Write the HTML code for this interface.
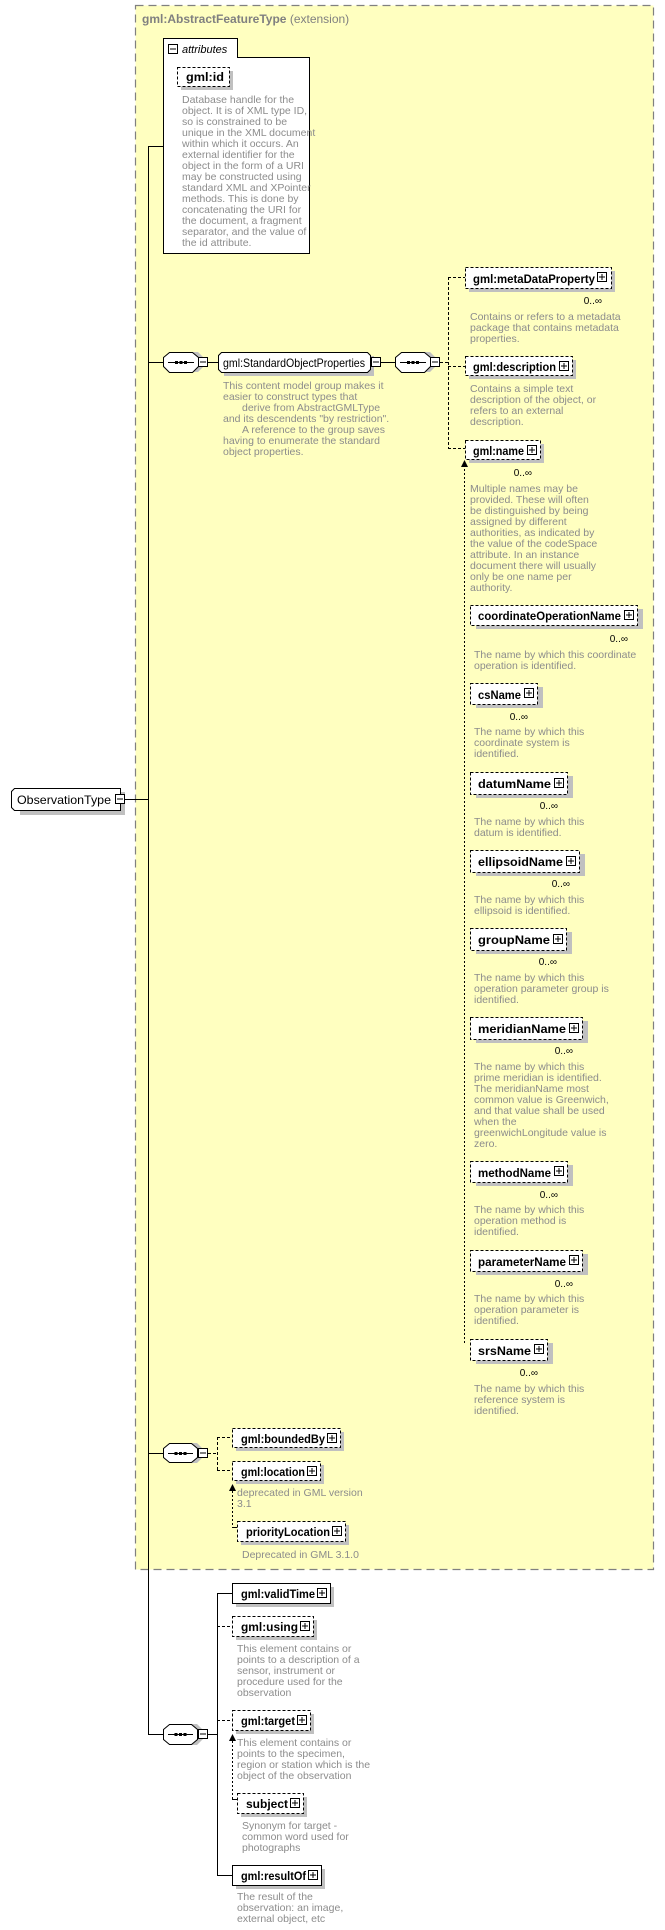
<!DOCTYPE html>
<html><head><meta charset="utf-8"><style>
html,body{margin:0;padding:0;background:#fff;}
svg{display:block;}
.n{font-family:"Liberation Sans",Arial,sans-serif;font-weight:bold;font-size:12px;fill:#000;}
.d{font-family:"Liberation Sans",Arial,sans-serif;font-size:10.5px;fill:#8c8c8c;}
.o{font-family:"Liberation Sans",Arial,sans-serif;font-size:10px;fill:#000;}
.sh{fill:#c0c0c0;}
.bx{fill:#fff;stroke:#000;stroke-width:1;}
.ds{stroke-dasharray:3,2;}
.ln{stroke:#000;stroke-width:1;fill:none;}
</style></head><body>
<svg width="665" height="1930" viewBox="0 0 665 1930" xmlns="http://www.w3.org/2000/svg">
<rect x="135.5" y="5.5" width="518" height="1564" fill="#ffffc0" stroke="#808080" stroke-width="1.2" stroke-dasharray="8,5"/>
<text x="142" y="23" style="font-family:'Liberation Sans',Arial,sans-serif;font-size:12px;fill:#808080"><tspan font-weight="bold">gml:AbstractFeatureType</tspan> (extension)</text>

<path d="M163.5,253.5 V38.5 H237.5 V57.5 H309.5 V253.5 Z" class="bx"/>
<rect x="168.5" y="44.5" width="9" height="9" class="bx"/><line x1="170" y1="49" x2="176" y2="49" class="ln"/>
<text x="182" y="53" style="font-family:'Liberation Sans',Arial,sans-serif;font-size:11px;font-style:italic">attributes</text>
<rect x="181" y="71" width="52" height="19" class="sh"/>
<rect x="177.5" y="67.5" width="52" height="19" class="bx ds"/>
<text x="186" y="81" class="n" textLength="38" lengthAdjust="spacingAndGlyphs">gml:id</text>
<text class="d"><tspan x="182" y="103">Database handle for the</tspan><tspan x="182" y="114">object.  It is of XML type ID,</tspan><tspan x="182" y="125">so is constrained to be</tspan><tspan x="182" y="136">unique in the XML document</tspan><tspan x="182" y="147">within which it occurs.  An</tspan><tspan x="182" y="158">external identifier for the</tspan><tspan x="182" y="169">object in the form of a URI</tspan><tspan x="182" y="180">may be constructed using</tspan><tspan x="182" y="191">standard XML and XPointer</tspan><tspan x="182" y="202">methods.  This is done by</tspan><tspan x="182" y="213">concatenating the URI for</tspan><tspan x="182" y="224">the document, a fragment</tspan><tspan x="182" y="235">separator, and the value of</tspan><tspan x="182" y="246">the id attribute.</tspan></text>

<path d="M20,792 H125 V815 H20 Z" class="sh"/>
<path d="M14.5,788.5 H120.5 V810.5 H14.5 L11.5,807.5 V791.5 Z" class="bx"/>
<text x="17" y="804" style="font-family:'Liberation Sans',Arial,sans-serif;font-size:12px" textLength="94" lengthAdjust="spacingAndGlyphs">ObservationType</text>
<rect x="115.5" y="794.5" width="9" height="9" class="bx"/><line x1="117" y1="799" x2="123" y2="799" class="ln"/>
<line x1="125" y1="799.5" x2="148" y2="799.5" class="ln"/>

<line x1="148.5" y1="146" x2="148.5" y2="1734" class="ln"/>
<line x1="148" y1="146.5" x2="163" y2="146.5" class="ln"/>

<line x1="148" y1="362.5" x2="163" y2="362.5" class="ln"/>
<path d="M169,358 L175,352 H198 L204,358 V366 L198,372 H175 L169,366 Z" class="sh"/>
<path d="M163.5,357.5 L169.5,352.5 H192.5 L198.5,357.5 V366.5 L192.5,372.5 H169.5 L163.5,366.5 Z" class="bx"/>
<line x1="168" y1="362.5" x2="194" y2="362.5" class="ln"/><rect x="175" y="361" width="3" height="3"/><rect x="179.5" y="361" width="3" height="3"/><rect x="184" y="361" width="3" height="3"/>
<rect x="198.5" y="357.5" width="9" height="9" class="bx"/><line x1="200" y1="362" x2="206" y2="362" class="ln"/>
<line x1="208" y1="362.5" x2="218" y2="362.5" class="ln"/>
<path d="M224,356 H374 V376 H224 Z" class="sh"/>
<path d="M221.5,352.5 H367.5 L370.5,355.5 V369.5 L367.5,372.5 H221.5 L218.5,369.5 V355.5 Z" class="bx"/>
<text x="223" y="367" style="font-family:'Liberation Sans',Arial,sans-serif;font-size:12px" textLength="142" lengthAdjust="spacingAndGlyphs">gml:StandardObjectProperties</text>
<rect x="371.5" y="357.5" width="9" height="9" class="bx"/><line x1="373" y1="362" x2="379" y2="362" class="ln"/>
<line x1="381" y1="362.5" x2="395" y2="362.5" class="ln"/>
<path d="M401,358 L407,352 H430 L436,358 V366 L430,372 H407 L401,366 Z" class="sh"/>
<path d="M395.5,357.5 L401.5,352.5 H424.5 L430.5,357.5 V366.5 L424.5,372.5 H401.5 L395.5,366.5 Z" class="bx"/>
<line x1="400" y1="362.5" x2="426" y2="362.5" class="ln"/><rect x="407" y="361" width="3" height="3"/><rect x="411.5" y="361" width="3" height="3"/><rect x="416" y="361" width="3" height="3"/>
<rect x="430.5" y="357.5" width="9" height="9" class="bx"/><line x1="432" y1="362" x2="438" y2="362" class="ln"/>
<line x1="440" y1="362.5" x2="448" y2="362.5" class="ln ds"/>
<line x1="448.5" y1="277" x2="448.5" y2="448" class="ln ds"/>
<line x1="448" y1="277.5" x2="465" y2="277.5" class="ln ds"/>
<line x1="448" y1="366.5" x2="465" y2="366.5" class="ln ds"/>
<line x1="448" y1="448.5" x2="465" y2="448.5" class="ln ds"/>
<text class="d"><tspan x="223" y="389">This content model group makes it</tspan><tspan x="223" y="400">easier to construct types that</tspan><tspan x="242" y="411">derive from AbstractGMLType</tspan><tspan x="223" y="422">and its descendents "by restriction".</tspan><tspan x="242" y="433">A reference to the group saves</tspan><tspan x="223" y="444">having to enumerate the standard</tspan><tspan x="223" y="455">object properties.</tspan></text>

<line x1="464.5" y1="461" x2="464.5" y2="1344" class="ln" stroke-dasharray="2,2"/>
<path d="M461,467 L464.5,460 L468,467 Z"/>

<g>
<rect x="469" y="271" width="146" height="21" class="sh"/><rect x="465.5" y="267.5" width="146" height="21" class="bx ds"/><text x="473" y="283" class="n" textLength="122" lengthAdjust="spacingAndGlyphs">gml:metaDataProperty</text>
<rect x="597.5" y="272.5" width="9" height="9" class="bx"/><path d="M599,277H605M602,274V280" class="ln"/>
<text x="602" y="304" class="o" text-anchor="end">0..∞</text>
<text class="d"><tspan x="470" y="320">Contains or refers to a metadata</tspan><tspan x="470" y="331">package that contains metadata</tspan><tspan x="470" y="342">properties.</tspan></text>

<rect x="469" y="360" width="107" height="19" class="sh"/><rect x="465.5" y="356.5" width="107" height="19" class="bx ds"/><text x="473" y="371" class="n" textLength="83" lengthAdjust="spacingAndGlyphs">gml:description</text>
<rect x="559.5" y="361.5" width="9" height="9" class="bx"/><path d="M561,366H567M564,363V369" class="ln"/>
<text class="d"><tspan x="470" y="392">Contains a simple text</tspan><tspan x="470" y="403">description of the object, or</tspan><tspan x="470" y="414">refers to an external</tspan><tspan x="470" y="425">description.</tspan></text>

<rect x="469" y="444" width="75" height="19" class="sh"/><rect x="465.5" y="440.5" width="75" height="19" class="bx ds"/><text x="473" y="455" class="n" textLength="51" lengthAdjust="spacingAndGlyphs">gml:name</text>
<rect x="527.5" y="445.5" width="9" height="9" class="bx"/><path d="M529,450H535M532,447V453" class="ln"/>
<text x="532" y="476" class="o" text-anchor="end">0..∞</text>
<text class="d"><tspan x="470" y="492">Multiple names may be</tspan><tspan x="470" y="503">provided.  These will often</tspan><tspan x="470" y="514">be distinguished by being</tspan><tspan x="470" y="525">assigned by different</tspan><tspan x="470" y="536">authorities, as indicated by</tspan><tspan x="470" y="547">the value of the codeSpace</tspan><tspan x="470" y="558">attribute.  In an instance</tspan><tspan x="470" y="569">document there will usually</tspan><tspan x="470" y="580">only be one name per</tspan><tspan x="470" y="591">authority.</tspan></text>

<rect x="476" y="609" width="167" height="20" class="sh"/><rect x="470.5" y="605.5" width="167" height="20" class="bx ds"/><text x="478" y="620" class="n" textLength="143" lengthAdjust="spacingAndGlyphs">coordinateOperationName</text>
<rect x="624.5" y="610.5" width="9" height="9" class="bx"/><path d="M626,615H632M629,612V618" class="ln"/>
<text x="628" y="642" class="o" text-anchor="end">0..∞</text>
<text class="d"><tspan x="474" y="658">The name by which this coordinate</tspan><tspan x="474" y="669">operation is identified.</tspan></text>

<rect x="476" y="687" width="67" height="21" class="sh"/><rect x="470.5" y="683.5" width="67" height="21" class="bx ds"/><text x="478" y="699" class="n" textLength="43" lengthAdjust="spacingAndGlyphs">csName</text>
<rect x="524.5" y="688.5" width="9" height="9" class="bx"/><path d="M526,693H532M529,690V696" class="ln"/>
<text x="528" y="720" class="o" text-anchor="end">0..∞</text>
<text class="d"><tspan x="474" y="735">The name by which this</tspan><tspan x="474" y="746">coordinate system is</tspan><tspan x="474" y="757">identified.</tspan></text>

<rect x="476" y="776" width="97" height="22" class="sh"/><rect x="470.5" y="772.5" width="97" height="22" class="bx ds"/><text x="478" y="788" class="n" textLength="73" lengthAdjust="spacingAndGlyphs">datumName</text>
<rect x="554.5" y="778.5" width="9" height="9" class="bx"/><path d="M556,783H562M559,780V786" class="ln"/>
<text x="558" y="809" class="o" text-anchor="end">0..∞</text>
<text class="d"><tspan x="474" y="825">The name by which this</tspan><tspan x="474" y="836">datum is identified.</tspan></text>

<rect x="476" y="854" width="109" height="22" class="sh"/><rect x="470.5" y="850.5" width="109" height="22" class="bx ds"/><text x="478" y="866" class="n" textLength="85" lengthAdjust="spacingAndGlyphs">ellipsoidName</text>
<rect x="566.5" y="856.5" width="9" height="9" class="bx"/><path d="M568,861H574M571,858V864" class="ln"/>
<text x="570" y="887" class="o" text-anchor="end">0..∞</text>
<text class="d"><tspan x="474" y="903">The name by which this</tspan><tspan x="474" y="914">ellipsoid is identified.</tspan></text>

<rect x="476" y="932" width="96" height="22" class="sh"/><rect x="470.5" y="928.5" width="96" height="22" class="bx ds"/><text x="478" y="944" class="n" textLength="72" lengthAdjust="spacingAndGlyphs">groupName</text>
<rect x="553.5" y="934.5" width="9" height="9" class="bx"/><path d="M555,939H561M558,936V942" class="ln"/>
<text x="557" y="965" class="o" text-anchor="end">0..∞</text>
<text class="d"><tspan x="474" y="981">The name by which this</tspan><tspan x="474" y="992">operation parameter group is</tspan><tspan x="474" y="1003">identified.</tspan></text>

<rect x="476" y="1021" width="112" height="22" class="sh"/><rect x="470.5" y="1017.5" width="112" height="22" class="bx ds"/><text x="478" y="1033" class="n" textLength="88" lengthAdjust="spacingAndGlyphs">meridianName</text>
<rect x="569.5" y="1023.5" width="9" height="9" class="bx"/><path d="M571,1028H577M574,1025V1031" class="ln"/>
<text x="573" y="1054" class="o" text-anchor="end">0..∞</text>
<text class="d"><tspan x="474" y="1070">The name by which this</tspan><tspan x="474" y="1081">prime meridian is identified.</tspan><tspan x="474" y="1092">The meridianName most</tspan><tspan x="474" y="1103">common value is Greenwich,</tspan><tspan x="474" y="1114">and that value shall be used</tspan><tspan x="474" y="1125">when the</tspan><tspan x="474" y="1136">greenwichLongitude value is</tspan><tspan x="474" y="1147">zero.</tspan></text>

<rect x="476" y="1165" width="97" height="21" class="sh"/><rect x="470.5" y="1161.5" width="97" height="21" class="bx ds"/><text x="478" y="1177" class="n" textLength="73" lengthAdjust="spacingAndGlyphs">methodName</text>
<rect x="554.5" y="1166.5" width="9" height="9" class="bx"/><path d="M556,1171H562M559,1168V1174" class="ln"/>
<text x="558" y="1198" class="o" text-anchor="end">0..∞</text>
<text class="d"><tspan x="474" y="1213">The name by which this</tspan><tspan x="474" y="1224">operation method is</tspan><tspan x="474" y="1235">identified.</tspan></text>

<rect x="476" y="1254" width="112" height="21" class="sh"/><rect x="470.5" y="1250.5" width="112" height="21" class="bx ds"/><text x="478" y="1266" class="n" textLength="88" lengthAdjust="spacingAndGlyphs">parameterName</text>
<rect x="569.5" y="1255.5" width="9" height="9" class="bx"/><path d="M571,1260H577M574,1257V1263" class="ln"/>
<text x="573" y="1287" class="o" text-anchor="end">0..∞</text>
<text class="d"><tspan x="474" y="1302">The name by which this</tspan><tspan x="474" y="1313">operation parameter is</tspan><tspan x="474" y="1324">identified.</tspan></text>

<rect x="476" y="1343" width="77" height="21" class="sh"/><rect x="470.5" y="1339.5" width="77" height="21" class="bx ds"/><text x="478" y="1355" class="n" textLength="53" lengthAdjust="spacingAndGlyphs">srsName</text>
<rect x="534.5" y="1344.5" width="9" height="9" class="bx"/><path d="M536,1349H542M539,1346V1352" class="ln"/>
<text x="538" y="1376" class="o" text-anchor="end">0..∞</text>
<text class="d"><tspan x="474" y="1392">The name by which this</tspan><tspan x="474" y="1403">reference system is</tspan><tspan x="474" y="1414">identified.</tspan></text>
</g>

<line x1="148" y1="1453.5" x2="163" y2="1453.5" class="ln"/>
<path d="M169,1449 L175,1443 H197 L203,1449 V1457 L197,1463 H175 L169,1457 Z" class="sh"/>
<path d="M163.5,1448.5 L169.5,1443.5 H191.5 L197.5,1448.5 V1457.5 L191.5,1462.5 H169.5 L163.5,1457.5 Z" class="bx"/>
<line x1="168" y1="1453.5" x2="193" y2="1453.5" class="ln"/><rect x="174.5" y="1452" width="3" height="3"/><rect x="179" y="1452" width="3" height="3"/><rect x="183.5" y="1452" width="3" height="3"/>
<rect x="198.5" y="1448.5" width="9" height="9" class="bx"/><line x1="200" y1="1453" x2="206" y2="1453" class="ln"/>
<line x1="208" y1="1453.5" x2="217" y2="1453.5" class="ln ds"/>
<line x1="217.5" y1="1437" x2="217.5" y2="1470" class="ln ds"/>
<line x1="217" y1="1437.5" x2="232" y2="1437.5" class="ln ds"/>
<line x1="217" y1="1470.5" x2="232" y2="1470.5" class="ln ds"/>
<rect x="236" y="1432" width="108" height="19" class="sh"/><rect x="232.5" y="1428.5" width="108" height="19" class="bx ds"/><text x="241" y="1443" class="n" textLength="84" lengthAdjust="spacingAndGlyphs">gml:boundedBy</text>
<rect x="327.5" y="1433.5" width="9" height="9" class="bx"/><path d="M329,1438H335M332,1435V1441" class="ln"/>
<rect x="236" y="1465" width="88" height="19" class="sh"/><rect x="232.5" y="1461.5" width="88" height="19" class="bx ds"/><text x="241" y="1476" class="n" textLength="64" lengthAdjust="spacingAndGlyphs">gml:location</text>
<rect x="307.5" y="1466.5" width="9" height="9" class="bx"/><path d="M309,1471H315M312,1468V1474" class="ln"/>
<text class="d"><tspan x="237" y="1496">deprecated in GML version</tspan><tspan x="237" y="1507">3.1</tspan></text>
<line x1="232.5" y1="1487" x2="232.5" y2="1527" class="ln" stroke-dasharray="2,2"/><path d="M229,1491 L232.5,1484 L236,1491 Z"/>
<line x1="232" y1="1527.5" x2="237" y2="1527.5" class="ln"/>
<rect x="241" y="1525" width="108" height="20" class="sh"/><rect x="237.5" y="1521.5" width="108" height="20" class="bx ds"/><text x="246" y="1536" class="n" textLength="84" lengthAdjust="spacingAndGlyphs">priorityLocation</text>
<rect x="332.5" y="1526.5" width="9" height="9" class="bx"/><path d="M334,1531H340M337,1528V1534" class="ln"/>
<text x="242" y="1558" class="d">Deprecated in GML 3.1.0</text>

<line x1="148" y1="1734.5" x2="163" y2="1734.5" class="ln"/>
<path d="M169,1730 L175,1724 H197 L203,1730 V1739 L197,1745 H175 L169,1739 Z" class="sh"/>
<path d="M163.5,1729.5 L169.5,1724.5 H191.5 L197.5,1729.5 V1739.5 L191.5,1744.5 H169.5 L163.5,1739.5 Z" class="bx"/>
<line x1="168" y1="1734.5" x2="193" y2="1734.5" class="ln"/><rect x="174.5" y="1733" width="3" height="3"/><rect x="179" y="1733" width="3" height="3"/><rect x="183.5" y="1733" width="3" height="3"/>
<rect x="198.5" y="1729.5" width="9" height="9" class="bx"/><line x1="200" y1="1734" x2="206" y2="1734" class="ln"/>
<line x1="208" y1="1734.5" x2="217" y2="1734.5" class="ln"/>
<line x1="217.5" y1="1593" x2="217.5" y2="1875" class="ln"/>
<line x1="217" y1="1593.5" x2="232" y2="1593.5" class="ln"/>
<line x1="217" y1="1626.5" x2="232" y2="1626.5" class="ln ds"/>
<line x1="217" y1="1720.5" x2="232" y2="1720.5" class="ln ds"/>
<line x1="217" y1="1875.5" x2="232" y2="1875.5" class="ln"/>

<rect x="236" y="1587" width="98" height="20" class="sh"/><rect x="232.5" y="1583.5" width="98" height="20" class="bx"/><text x="241" y="1598" class="n" textLength="74" lengthAdjust="spacingAndGlyphs">gml:validTime</text>
<rect x="317.5" y="1588.5" width="9" height="9" class="bx"/><path d="M319,1593H325M322,1590V1596" class="ln"/>

<rect x="236" y="1620" width="81" height="20" class="sh"/><rect x="232.5" y="1616.5" width="81" height="20" class="bx ds"/><text x="241" y="1631" class="n" textLength="57" lengthAdjust="spacingAndGlyphs">gml:using</text>
<rect x="300.5" y="1621.5" width="9" height="9" class="bx"/><path d="M302,1626H308M305,1623V1629" class="ln"/>
<text class="d"><tspan x="237" y="1652">This element contains or</tspan><tspan x="237" y="1663">points to a description of a</tspan><tspan x="237" y="1674">sensor, instrument or</tspan><tspan x="237" y="1685">procedure used for the</tspan><tspan x="237" y="1696">observation</tspan></text>

<rect x="236" y="1714" width="78" height="20" class="sh"/><rect x="232.5" y="1710.5" width="78" height="20" class="bx ds"/><text x="241" y="1725" class="n" textLength="54" lengthAdjust="spacingAndGlyphs">gml:target</text>
<rect x="297.5" y="1715.5" width="9" height="9" class="bx"/><path d="M299,1720H305M302,1717V1723" class="ln"/>
<text class="d"><tspan x="237" y="1746">This element contains or</tspan><tspan x="237" y="1757">points to the specimen,</tspan><tspan x="237" y="1768">region or station which is the</tspan><tspan x="237" y="1779">object of the observation</tspan></text>
<line x1="232.5" y1="1737" x2="232.5" y2="1799" class="ln" stroke-dasharray="2,2"/><path d="M229,1741 L232.5,1734 L236,1741 Z"/>
<line x1="232" y1="1799.5" x2="237" y2="1799.5" class="ln"/>

<rect x="241" y="1797" width="66" height="20" class="sh"/><rect x="237.5" y="1793.5" width="66" height="20" class="bx ds"/><text x="246" y="1808" class="n" textLength="42" lengthAdjust="spacingAndGlyphs">subject</text>
<rect x="290.5" y="1798.5" width="9" height="9" class="bx"/><path d="M292,1803H298M295,1800V1806" class="ln"/>
<text class="d"><tspan x="242" y="1829">Synonym for target -</tspan><tspan x="242" y="1840">common word used for</tspan><tspan x="242" y="1851">photographs</tspan></text>

<rect x="236" y="1869" width="89" height="20" class="sh"/><rect x="232.5" y="1865.5" width="89" height="20" class="bx"/><text x="241" y="1880" class="n" textLength="65" lengthAdjust="spacingAndGlyphs">gml:resultOf</text>
<rect x="308.5" y="1870.5" width="9" height="9" class="bx"/><path d="M310,1875H316M313,1872V1878" class="ln"/>
<text class="d"><tspan x="237" y="1900">The result of the</tspan><tspan x="237" y="1911">observation: an image,</tspan><tspan x="237" y="1922">external object, etc</tspan></text>
</svg>
</body></html>
